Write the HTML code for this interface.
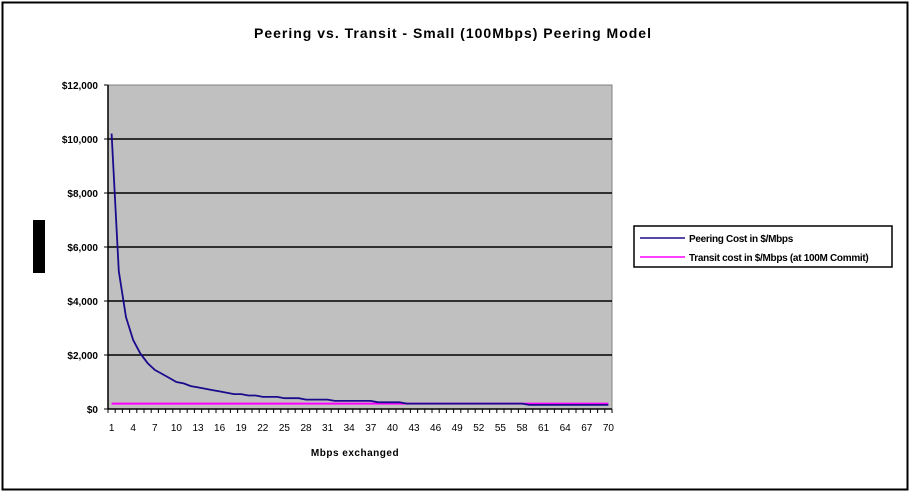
<!DOCTYPE html>
<html><head><style>
body{margin:0;background:#fff;}
svg text{font-family:"Liberation Sans",sans-serif;}
</style></head><body>
<svg id="s" width="912" height="496" xmlns="http://www.w3.org/2000/svg">
<rect x="2.5" y="2.5" width="905" height="487" fill="#fff" stroke="#000" stroke-width="2"/>
<text x="453" y="38" font-size="14" font-weight="bold" text-anchor="middle" letter-spacing="1">Peering vs. Transit - Small (100Mbps) Peering Model</text>
<rect x="108" y="85" width="504" height="324" fill="#c0c0c0" stroke="#808080"/>
<g id="g"></g>
<rect x="33" y="220" width="12" height="53" fill="#000"/>
<text x="355" y="456" font-size="10" font-weight="bold" text-anchor="middle" letter-spacing="0.5">Mbps exchanged</text>
<rect x="634" y="226" width="258" height="41" fill="#fff" stroke="#000" stroke-width="1.5"/>
<line x1="640" y1="238" x2="685" y2="238" stroke="#1a0a8c" stroke-width="1.5"/>
<line x1="640" y1="257" x2="685" y2="257" stroke="#ff00ff" stroke-width="1.5"/>
<text x="689" y="242" font-size="10" font-weight="bold" letter-spacing="-0.3">Peering Cost in $/Mbps</text>
<text x="689" y="261" font-size="10" font-weight="bold" letter-spacing="-0.3">Transit cost in $/Mbps (at 100M Commit)</text>
</svg>
<script>
var g=document.getElementById('g'),h='';
var y0=409,k=324/12000;
for(var v=0;v<=12000;v+=2000){var y=y0-v*k;
 if(v>0&&v<12000)h+='<line x1="108" y1="'+y+'" x2="612" y2="'+y+'" stroke="#000" stroke-width="1.5"/>';
 h+='<line x1="104" y1="'+y+'" x2="108" y2="'+y+'" stroke="#000"/>';
 h+='<text x="98" y="'+(y+4)+'" font-size="10" font-weight="bold" text-anchor="end">$'+v.toLocaleString('en-US')+'</text>';}
h+='<line x1="108" y1="85" x2="108" y2="409" stroke="#000" stroke-width="1.5"/>';
h+='<line x1="108" y1="409" x2="612" y2="409" stroke="#000" stroke-width="1.5"/>';
var w=7.2;
for(var i=0;i<=70;i++){var x=108+i*w;h+='<line x1="'+x+'" y1="409" x2="'+x+'" y2="413" stroke="#000"/>';}
for(var i=1;i<=70;i+=3){var x=108+w*(i-0.5);h+='<text x="'+x+'" y="431" font-size="10" text-anchor="middle">'+i+'</text>';}
var p=[];
for(var i=1;i<=70;i++){var val=Math.round(10200/i/50)*50;if(i>=42&&i<59)val=200;if(i>=59)val=150;p.push((108+w*(i-0.5)).toFixed(1)+','+(y0-val*k).toFixed(1));}
var ty=y0-200*k;
h+='<line x1="'+(108+w*0.5)+'" y1="'+ty+'" x2="'+(108+w*69.5)+'" y2="'+ty+'" stroke="#ff00ff" stroke-width="2"/>';
h+='<polyline points="'+p.join(' ')+'" fill="none" stroke="#1a0a8c" stroke-width="1.8"/>';
g.innerHTML=h;
</script>
</body></html>
